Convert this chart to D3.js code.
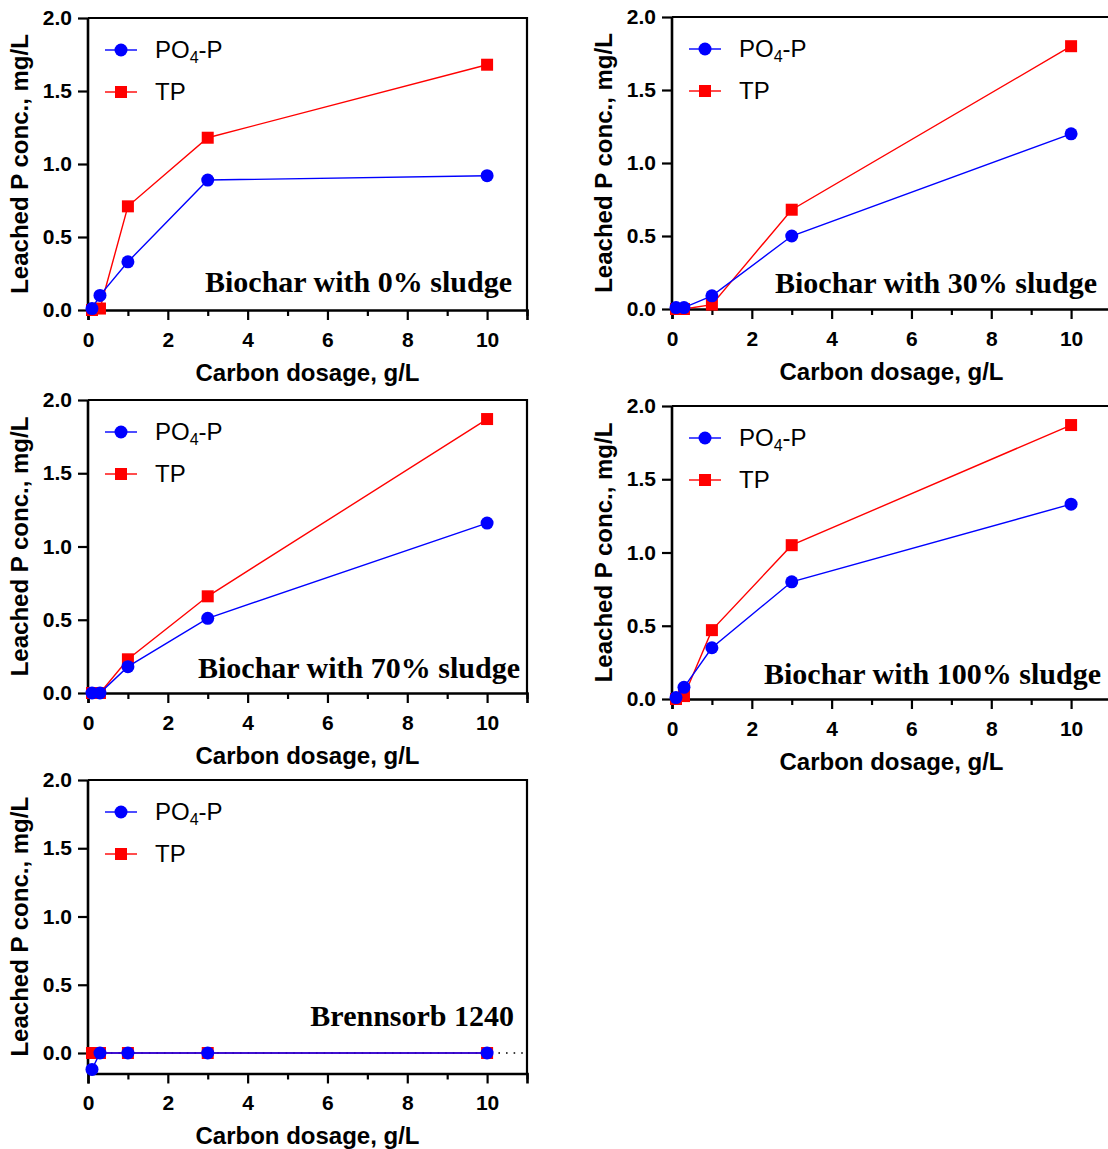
<!DOCTYPE html>
<html>
<head>
<meta charset="utf-8">
<script src="https://cdn.jsdelivr.net/npm/d3@7"></script>
<style>
  body { margin: 0; background: #fff; }
</style>
</head>
<body>
<div id="chart"></div>
<script>
// x values shared by all panels (carbon dosage, g/L)
const dosage = [0.1, 0.3, 1, 3, 10];

// leached P, mg/L
const po4_0 = [0.01, 0.10, 0.33, 0.89, 0.92];
const tp_0 = [0.00, 0.01, 0.71, 1.18, 1.68];
const po4_30 = [0.01, 0.01, 0.09, 0.50, 1.20];
const tp_30 = [0.00, 0.00, 0.03, 0.68, 1.80];
const po4_70 = [0.00, 0.00, 0.18, 0.51, 1.16];
const tp_70 = [0.00, 0.00, 0.23, 0.66, 1.87];
const po4_100 = [0.01, 0.08, 0.35, 0.80, 1.33];
const tp_100 = [0.00, 0.02, 0.47, 1.05, 1.87];
const po4_bren = [-0.12, 0.00, 0.00, 0.00, 0.00];
const tp_bren = [0.00, 0.00, 0.00, 0.00, 0.00];

const panelNames = ["Biochar with 0% sludge", "Biochar with 30% sludge",
  "Biochar with 70% sludge", "Biochar with 100% sludge", "Brennsorb 1240"];
const xMajor = [0, 2, 4, 6, 8, 10];
const xMinor = [1, 3, 5, 7, 9, 11];
const yTicks = [0, 0.5, 1.0, 1.5, 2.0];

// layout of each panel: left, top, pixel height of 0..2, y min, label offsets
const panels = [
  { po4: po4_0, tp: tp_0, left: 88, top: 18, h: 292, ymin: 0, lx: 424, ly: -18 },
  { po4: po4_30, tp: tp_30, left: 672, top: 17, h: 292, ymin: 0, lx: 425, ly: -16 },
  { po4: po4_70, tp: tp_70, left: 88, top: 400, h: 293, ymin: 0, lx: 432, ly: -15 },
  { po4: po4_100, tp: tp_100, left: 672, top: 406, h: 293, ymin: 0, lx: 429, ly: -15 },
  { po4: po4_bren, tp: tp_bren, left: 88, top: 780, h: 273, ymin: -0.15, lx: 426, ly: -27, dotted: true }
];
panels.forEach((p, i) => p.name = panelNames[i]);

const W = 1108, H = 1149;
const innerW = 439;
const blue = "#0000ff", red = "#ff0000";
const sans = "Arial, 'Liberation Sans', sans-serif";
const serif = "'Times New Roman', 'Liberation Serif', serif";

const svg = d3.select("#chart").append("svg")
  .attr("width", W).attr("height", H)
  .style("font-family", sans);

panels.forEach(p => {
  const x = d3.scaleLinear().domain([0, 11]).range([0, innerW]);
  const y = d3.scaleLinear().domain([0, 2]).range([p.h, 0]);
  const bottom = y(p.ymin);

  const g = svg.append("g").attr("transform", `translate(${p.left},${p.top})`);

  // frame top and right
  g.append("path")
    .attr("d", `M0,0H${x(11)}V${bottom}`)
    .attr("fill", "none").attr("stroke", "#000").attr("stroke-width", 2.2);

  // dotted baseline
  if (p.dotted) {
    g.append("line")
      .attr("x1", 0).attr("x2", x(11))
      .attr("y1", y(0)).attr("y2", y(0))
      .attr("stroke", "#000").attr("stroke-width", 1.6)
      .attr("stroke-dasharray", "1.6,6");
  }

  // x axis
  const ax = g.append("g").attr("transform", `translate(0,${bottom})`);
  ax.call(d3.axisBottom(x).tickValues(xMajor).tickSize(10).tickPadding(12).tickFormat(d3.format("d")));
  const axMin = g.append("g").attr("transform", `translate(0,${bottom})`);
  axMin.call(d3.axisBottom(x).tickValues(xMinor).tickSize(6).tickFormat(""));
  axMin.select(".domain").remove();

  // y axis
  const ay = g.append("g");
  ay.call(d3.axisLeft(y).tickValues(yTicks).tickSize(10).tickPadding(6).tickFormat(d3.format(".1f")));
  ay.select(".domain").attr("d", `M0,0V${bottom}`);

  g.selectAll(".domain").attr("stroke-width", 2.6);
  g.selectAll(".tick line").attr("stroke-width", 2.2);
  g.selectAll(".tick text")
    .style("font-size", "21px").style("font-weight", "bold")
    .style("font-family", sans).attr("fill", "#000");

  // axis titles
  g.append("text")
    .attr("x", innerW / 2).attr("y", bottom + 71)
    .attr("text-anchor", "middle")
    .style("font-size", "24px").style("font-weight", "bold")
    .text("Carbon dosage, g/L");
  g.append("text")
    .attr("transform", `translate(-60,${bottom / 2}) rotate(-90)`)
    .attr("text-anchor", "middle")
    .style("font-size", "24px").style("font-weight", "bold")
    .text("Leached P conc., mg/L");

  // series
  const line = d3.line().x(d => x(d[0])).y(d => y(d[1]));
  const tpPts = dosage.map((d, i) => [d, p.tp[i]]);
  const poPts = dosage.map((d, i) => [d, p.po4[i]]);

  g.append("path").datum(tpPts).attr("d", line)
    .attr("fill", "none").attr("stroke", red).attr("stroke-width", 1.4);
  g.selectAll(".sq").data(tpPts).join("rect")
    .attr("class", "sq")
    .attr("x", d => x(d[0]) - 6).attr("y", d => y(d[1]) - 6)
    .attr("width", 12).attr("height", 12).attr("fill", red);

  g.append("path").datum(poPts).attr("d", line)
    .attr("fill", "none").attr("stroke", blue).attr("stroke-width", 1.4);
  g.selectAll(".dot").data(poPts).join("circle")
    .attr("class", "dot")
    .attr("cx", d => x(d[0])).attr("cy", d => y(d[1]))
    .attr("r", 6.5).attr("fill", blue);

  // legend
  const lg = g.append("g").attr("transform", "translate(17,32)");
  lg.append("line").attr("x1", 0).attr("x2", 32).attr("y1", 0).attr("y2", 0)
    .attr("stroke", blue).attr("stroke-width", 1.4);
  lg.append("circle").attr("cx", 16).attr("cy", 0).attr("r", 6.5).attr("fill", blue);
  const t1 = lg.append("text").attr("x", 50).attr("y", 8).style("font-size", "24px");
  t1.append("tspan").text("PO");
  t1.append("tspan").style("font-size", "16px").attr("dy", 5).text("4");
  t1.append("tspan").attr("dy", -5).text("-P");

  lg.append("line").attr("x1", 0).attr("x2", 32).attr("y1", 42).attr("y2", 42)
    .attr("stroke", red).attr("stroke-width", 1.4);
  lg.append("rect").attr("x", 10).attr("y", 36).attr("width", 12).attr("height", 12).attr("fill", red);
  lg.append("text").attr("x", 50).attr("y", 50).style("font-size", "24px").text("TP");

  // panel label
  g.append("text")
    .attr("x", p.lx).attr("y", y(0) + p.ly)
    .attr("text-anchor", "end")
    .style("font-family", serif)
    .style("font-weight", "bold").style("font-size", "30px")
    .text(p.name);
});
</script>
</body>
</html>
